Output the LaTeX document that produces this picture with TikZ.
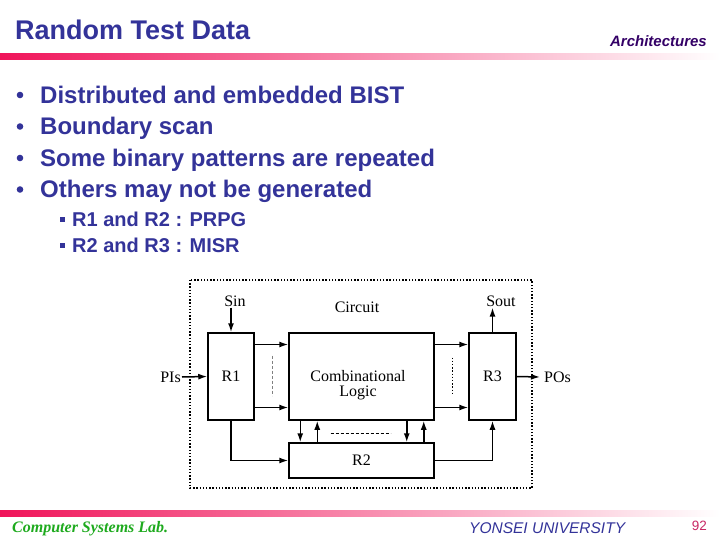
\documentclass[tikz,border=0pt]{standalone}
\usepackage{fontspec}
\setmainfont{Liberation Sans}
\newfontfamily\timesfont{Liberation Serif}
\usetikzlibrary{arrows.meta,positioning}
\definecolor{slideblue}{RGB}{51,51,153}
\definecolor{darkpurple}{RGB}{51,0,102}
\definecolor{barred}{RGB}{240,20,90}
\definecolor{labgreen}{RGB}{30,170,30}
\definecolor{pagered}{RGB}{200,40,100}

\begin{document}
\begin{tikzpicture}[x=1pt,y=-1pt,
    reg/.style={draw, line width=1.5pt, minimum height=87pt, inner sep=0pt, align=center,
      font=\timesfont\fontsize{16}{15}\selectfont},
    lbl/.style={font=\timesfont\fontsize{16}{15}\selectfont, inner sep=1pt, align=center},
    arr/.style={line width=1.5pt, -{Latex[length=9pt,width=6pt]}},
    dots/.style={line width=1.4pt, dash pattern=on 1.4pt off 1.8pt},
    item/.style={anchor=base west, inner sep=0pt, text=slideblue, font=\bfseries\fontsize{24}{24}\selectfont},
    subitem/.style={anchor=base west, inner sep=0pt, text=slideblue, font=\bfseries\fontsize{20}{20}\selectfont}]
    \useasboundingbox (0,0) rectangle (720,540);
    % header and footer
    \node[anchor=base west, inner sep=0pt, text=slideblue, font=\bfseries\fontsize{27}{27}\selectfont] (title) at (15,40) {Random Test Data};
    \node[anchor=base east, inner sep=0pt, text=darkpurple, font=\bfseries\itshape\fontsize{15}{15}\selectfont] (topic) at (707,47) {Architectures};
    \shade[left color=barred, right color=white] (0,54) rectangle (720,60);
    \shade[left color=barred, right color=white] (0,510) rectangle (720,516);
    \node[anchor=base west, inner sep=0pt, text=labgreen, font=\timesfont\bfseries\itshape\fontsize{16}{16}\selectfont] (lab) at (12,532) {Computer Systems Lab.};
    \node[anchor=base west, inner sep=0pt, text=slideblue, font=\itshape\fontsize{15.5}{15.5}\selectfont] (univ) at (469,533) {YONSEI UNIVERSITY};
    \node[anchor=base east, inner sep=0pt, text=pagered, font=\fontsize{13.5}{13.5}\selectfont] (page) at (707,530) {92};
    % bullets
    \foreach \t [count=\i] in {Distributed and embedded BIST, Boundary scan, Some binary patterns are repeated, Others may not be generated} {
        \fill[slideblue] (20,{63.5+31.5*\i}) circle (3.3);
        \node[item] (b\i) at (40,{72+31.5*\i}) {\t};
    }
    \foreach \t [count=\i] in {R1 and R2 : PRPG, R2 and R3 : MISR} {
        \fill[slideblue] (60,{191+26*\i}) rectangle (65,{196+26*\i});
        \node[subitem] (s\i) at (72,{200.5+26*\i}) {\t};
    }
    % circuit
    \draw[dots] (190,280) rectangle (532,488);
    \node[reg, minimum width=46pt] (r1) at (231,376.5) {R1};
    \node[reg, minimum width=145pt] (comb) at (361.5,376.5) {};
    \node[lbl] (combtxt) at (358,385) {Combinational\\Logic};
    \node[reg, minimum width=47pt] (r3) at (492.5,376.5) {R3};
    \node[reg, minimum width=145pt, minimum height=35pt] (r2) at (361.5,460.5) {R2};
    \node[lbl] (circ) at (357,307) {Circuit};
    \node[lbl] (sin) at (235,301) {Sin};
    \node[lbl] (sout) at (501,301) {Sout};
    \node[lbl, anchor=east] (pis) at (182,377) {PIs};
    \node[lbl, anchor=west, inner sep=4pt] (pos) at (540,377) {POs};
    \draw[arr] (sin.south -| r1.north) -- (r1.north);
    \draw[arr] (r3.north) -- (sout.south -| r3.north);
    \draw[arr] (pis.east) -- (r1.west);
    \draw[arr] (r3.east) -- (pos.west);
    \draw[arr] ([yshift=32pt]r1.east) -- ([yshift=32pt]comb.west);
    \draw[arr] ([yshift=-31pt]r1.east) -- ([yshift=-31pt]comb.west);
    \draw[arr] ([yshift=32pt]comb.east) -- ([yshift=32pt]r3.west);
    \draw[arr] ([yshift=-31pt]comb.east) -- ([yshift=-31pt]r3.west);
    \draw[gray, densely dashed, thin] ([xshift=17pt,yshift=21pt]r1.east) -- ([xshift=17pt,yshift=-19pt]r1.east);
    \draw[dots] ([xshift=18pt,yshift=19pt]comb.east) -- ([xshift=18pt,yshift=-19pt]comb.east);
    \draw[arr] ([xshift=12pt]comb.south west) -- ([xshift=12pt]r2.north west);
    \draw[arr] ([xshift=29pt]r2.north west) -- ([xshift=29pt]comb.south west);
    \draw[arr] ([xshift=-28pt]comb.south east) -- ([xshift=-28pt]r2.north east);
    \draw[arr] ([xshift=-11pt]r2.north east) -- ([xshift=-11pt]comb.south east);
    \draw[densely dashed, thin] ([xshift=-31pt,yshift=-12pt]comb.south) -- ([xshift=29pt,yshift=-12pt]comb.south);
    \draw[arr] (r1.south) |- (r2.west);
    \draw[arr] (r2.east) -| (r3.south);
\end{tikzpicture}
\end{document}
